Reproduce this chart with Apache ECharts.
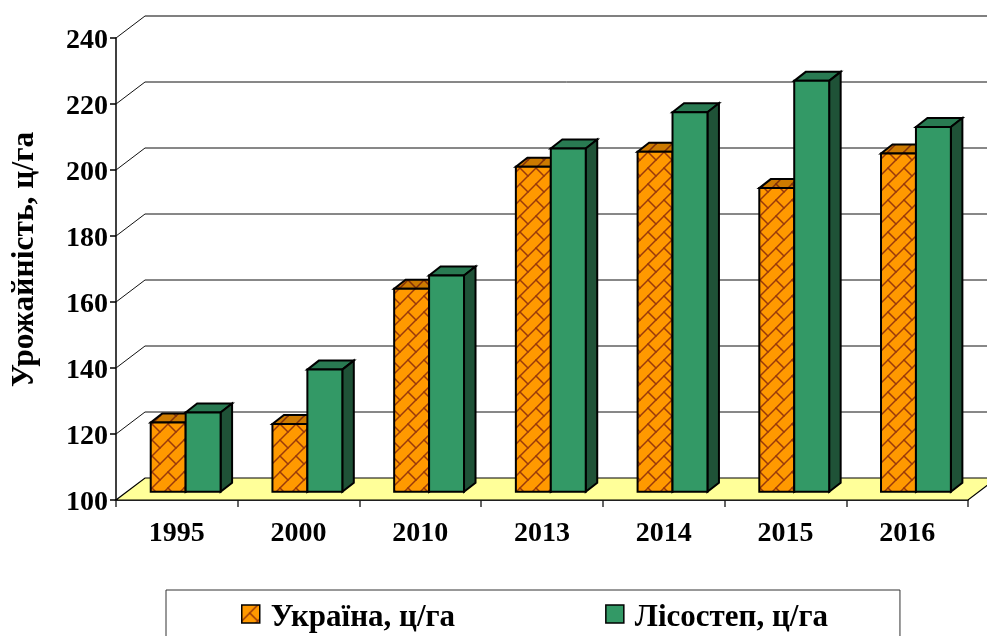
<!DOCTYPE html>
<html><head><meta charset="utf-8">
<style>html,body{margin:0;padding:0;background:#fff;overflow:hidden}#c{width:987px;height:636px}</style>
<script src="https://cdn.jsdelivr.net/npm/echarts@6/dist/echarts.min.js"></script>
</head><body><div id="c"></div>
<script>
var categories = ['1995','2000','2010','2013','2014','2015','2016'];
var ukraine = [121,120.5,161.5,198.5,203,192,202.5];
var forestSteppe = [124,137,165.5,204,215,224.5,210.5];
var yTicks = [120,140,160,180,200,220,240];
var seriesNames = ['Україна, ц/га','Лісостеп, ц/га'];

var FONT = '"Liberation Serif","Times New Roman",serif';
var WALL = {dx:29, dy:-22};
var BASE = {dx:0, dy:-8.3};
var SIDE = {dx:11.5, dy:-9};
var BAND_SHIFT = 8.8;
var BAR_FRAC = 0.287;

function brick(bg, line){
  var s=16, c=document.createElement('canvas'); c.width=s; c.height=s;
  var g=c.getContext('2d');
  g.fillStyle=bg; g.fillRect(0,0,s,s);
  g.strokeStyle=line; g.lineWidth=1.5; g.lineCap='square';
  function seg(a,b,d,e){g.beginPath();g.moveTo(a,b);g.lineTo(d,e);g.stroke();}
  seg(-2,s+2,s+2,-2); seg(-2,2,2,-2); seg(s-2,s+2,s+2,s-2);
  seg(8,8,s+1,s+1); seg(-1,-1,0,0);
  return {image:c, repeat:'repeat'};
}
var orangeFill = brick('#FF9900','#9A3A0A');
var orangeTop = brick('#CC7A00','#80300A');

var poly=function(points,fill,stroke,w){
  return {type:'polygon',shape:{points:points},style:{fill:fill,stroke:stroke,lineWidth:w,lineJoin:'miter'}};
};

function barRender(index, front, top, side){
  return function(params, api){
    var band=api.size([1,0])[0], w=band*BAR_FRAC;
    var c=api.coord([api.value(0),api.value(1)]);
    var b=api.coord([api.value(0),100]);
    var x0=c[0]+BAND_SHIFT+(index-1)*w+BASE.dx, x1=x0+w;
    var yT=c[1]+BASE.dy, yB=b[1]+BASE.dy;
    return {type:'group',children:[
      poly([[x0,yT],[x1,yT],[x1+SIDE.dx,yT+SIDE.dy],[x0+SIDE.dx,yT+SIDE.dy]],top,'#000',2),
      poly([[x1,yT],[x1+SIDE.dx,yT+SIDE.dy],[x1+SIDE.dx,yB+SIDE.dy],[x1,yB]],side,'#000',2),
      poly([[x0,yT],[x1,yT],[x1,yB],[x0,yB]],front,'#000',2)
    ]};
  };
}

var option={
  animation:false,
  backgroundColor:'#fff',
  grid:{left:116,top:38,width:852,height:462,containLabel:false,outerBoundsMode:'none'},
  legend:{
    left:166, top:590, orient:'horizontal',
    padding:[12,72,40,75], itemGap:150, itemWidth:18, itemHeight:18,
    borderColor:'#333', borderWidth:1, backgroundColor:'#fff',
    icon:'rect',
    formatter:'{a|{name}}',
    textStyle:{rich:{a:{fontFamily:FONT,fontWeight:'bold',fontSize:31,color:'#000',padding:[7,0,0,6]}}},
    data:[
      {name:seriesNames[0],itemStyle:{color:orangeFill,borderColor:'#000',borderWidth:1.5}},
      {name:seriesNames[1],itemStyle:{color:'#339966',borderColor:'#000',borderWidth:1.5}}
    ]
  },
  xAxis:{type:'category',data:categories,boundaryGap:true,
    axisLine:{lineStyle:{color:'#000',width:1.5}},
    axisTick:{show:true,length:7,alignWithLabel:false,lineStyle:{color:'#333',width:1.5}},
    axisLabel:{fontFamily:FONT,fontWeight:'bold',fontSize:28,color:'#000',margin:20},
    splitLine:{show:false}},
  yAxis:{type:'value',min:100,max:240,interval:20,
    name:'Урожайність, ц/га',nameLocation:'middle',nameRotate:90,nameGap:75,
    nameTextStyle:{fontFamily:FONT,fontWeight:'bold',fontSize:31.5,color:'#000',padding:[0,0,0,19]},
    axisLine:{show:true,lineStyle:{color:'#000',width:1.5}},
    axisTick:{show:true,length:6,lineStyle:{color:'#000',width:1.5}},
    axisLabel:{margin:8,formatter:'{a|{value}}',
      rich:{a:{fontFamily:FONT,fontWeight:'bold',fontSize:28,color:'#000',padding:[6,0,0,0]}}},
    splitLine:{show:false}},
  series:[
    {type:'custom',name:'floor',silent:true,z:1,coordinateSystem:'cartesian2d',
     data:[[0,100]],encode:{x:0,y:1},
     renderItem:function(p,api){
       var band=api.size([1,0])[0];
       var a=api.coord([0,100]); var l=a[0]-band/2, r=l+band*categories.length, y=a[1];
       return poly([[l,y],[r,y],[r+WALL.dx,y+WALL.dy],[l+WALL.dx,y+WALL.dy]],'#FFFF99','#000',1.2);
     }},
    {type:'custom',name:'wall',silent:true,z:1,coordinateSystem:'cartesian2d',
     data:yTicks.map(function(v){return [0,v];}),encode:{x:0,y:1},
     renderItem:function(p,api){
       var band=api.size([1,0])[0];
       var a=api.coord([0,api.value(1)]); var l=a[0]-band/2, r=l+band*categories.length, y=a[1];
       var isTop=api.value(1)===240;
       return {type:'group',children:[
         {type:'polyline',shape:{points:[[l,y],[l+WALL.dx,y+WALL.dy]]},style:{fill:null,stroke:'#111',lineWidth:1}},
         {type:'polyline',shape:{points:[[l+WALL.dx,y+WALL.dy],[r+WALL.dx,y+WALL.dy]]},style:{fill:null,stroke:isTop?'#808080':'#111',lineWidth:isTop?2:1}}
       ]};
     }},
    {type:'custom',name:seriesNames[0],z:3,coordinateSystem:'cartesian2d',
     data:ukraine.map(function(v,i){return [i,v];}),encode:{x:0,y:1},
     itemStyle:{color:'#FF9900'},
     renderItem:barRender(0,orangeFill,orangeTop,'#7A4A00')},
    {type:'custom',name:seriesNames[1],z:4,coordinateSystem:'cartesian2d',
     data:forestSteppe.map(function(v,i){return [i,v];}),encode:{x:0,y:1},
     itemStyle:{color:'#339966'},
     renderItem:barRender(1,'#339966','#297A52','#1F5237')}
  ]
};
echarts.init(document.getElementById('c'),null,{renderer:'canvas'}).setOption(option);
</script></body></html>
